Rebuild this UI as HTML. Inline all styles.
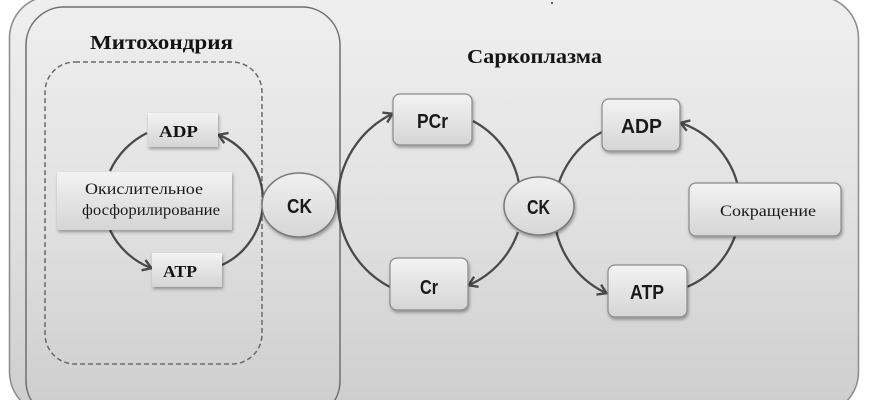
<!DOCTYPE html>
<html>
<head>
<meta charset="utf-8">
<style>
  html, body { margin:0; padding:0; background:#ffffff; }
  body { width:870px; height:400px; overflow:hidden; }
  svg { display:block; }
  .serifb { font-family:"Liberation Serif","Noto Serif CJK SC",serif; font-weight:bold; fill:#141414; }
  .serif { font-family:"Liberation Serif","Noto Serif CJK SC",serif; fill:#1a1a1a; }
  .sansb { font-family:"Liberation Sans","Noto Sans CJK SC",sans-serif; font-weight:bold; fill:#1a1a1a; }
</style>
</head>
<body>
<svg width="870" height="400" viewBox="0 0 870 400" xmlns="http://www.w3.org/2000/svg">
  <defs>
    <linearGradient id="bg" x1="0" y1="0" x2="0" y2="1">
      <stop offset="0" stop-color="#efefef"/>
      <stop offset="0.5" stop-color="#e2e2e2"/>
      <stop offset="1" stop-color="#cdcdcd"/>
    </linearGradient>
    <linearGradient id="box" x1="0" y1="0" x2="0" y2="1">
      <stop offset="0" stop-color="#f3f3f3"/>
      <stop offset="1" stop-color="#d5d5d5"/>
    </linearGradient>
    <linearGradient id="ell" x1="0" y1="0" x2="0" y2="1">
      <stop offset="0" stop-color="#f0f0f0"/>
      <stop offset="1" stop-color="#d6d6d6"/>
    </linearGradient>
    <filter id="sh" x="-20%" y="-20%" width="140%" height="150%">
      <feDropShadow dx="1" dy="2" stdDeviation="1.6" flood-color="#000" flood-opacity="0.35"/>
    </filter>
    <marker id="arr" markerWidth="14" markerHeight="14" refX="10" refY="7" orient="auto" markerUnits="userSpaceOnUse">
      <path d="M2,1.5 L10.5,7 L2,12.5" fill="none" stroke="#4a4a4a" stroke-width="2.4" stroke-linejoin="miter"/>
    </marker>
  </defs>

  <!-- outer sarcoplasm box -->
  <rect x="9.5" y="-4" width="849" height="418" rx="42" ry="42" fill="url(#bg)" stroke="#909090" stroke-width="1.6"/>

  <!-- mitochondria box -->
  <rect x="26" y="7" width="314" height="412" rx="38" ry="38" fill="none" stroke="#6f6f6f" stroke-width="1.5"/>

  <!-- dashed inner -->
  <rect x="45" y="62" width="217" height="302" rx="30" ry="30" fill="none" stroke="#6a6a6a" stroke-width="1.5" stroke-dasharray="5,3"/>

  <!-- titles -->
  <text x="90" y="49" class="serifb" font-size="20" textLength="143" lengthAdjust="spacingAndGlyphs">Митохондрия</text>
  <text x="467" y="63" class="serifb" font-size="20" textLength="135" lengthAdjust="spacingAndGlyphs">Саркоплазма</text>

  <!-- small dot -->
  <circle cx="552" cy="3" r="1" fill="#333"/>

  <!-- ===== Left (mitochondrial) cycle arcs ===== -->
  <g fill="none" stroke="#4a4a4a" stroke-width="2.3">
    <path d="M147,133 A80,80 0 0 0 110,171"/>
    <path d="M110,230 A75,75 0 0 0 151,268" marker-end="url(#arr)"/>
    <path d="M222,265 A71,71 0 0 0 219,135" marker-end="url(#arr)"/>
  </g>

  <!-- ===== Middle cycle arcs ===== -->
  <g fill="none" stroke="#4a4a4a" stroke-width="2.3">
    <path d="M390,287 A97,97 0 0 1 392,114" marker-end="url(#arr)"/>
    <path d="M473,121 A90,90 0 0 1 519,183"/>
    <path d="M518,232 A90,90 0 0 1 469,285" marker-end="url(#arr)"/>
  </g>

  <!-- ===== Right cycle arcs ===== -->
  <g fill="none" stroke="#4a4a4a" stroke-width="2.3">
    <path d="M602,132 A90,90 0 0 0 606,293" marker-end="url(#arr)"/>
    <path d="M687,287 A88,88 0 0 0 681,123" marker-end="url(#arr)"/>
  </g>

  <!-- mitochondria boxes -->
  <g filter="url(#sh)">
    <rect x="148" y="113" width="70" height="34" fill="url(#box)"/>
    <rect x="57" y="172" width="175" height="58" fill="url(#box)"/>
    <rect x="152" y="253" width="70" height="34" fill="url(#box)"/>
  </g>
  <text x="159" y="137" class="serifb" font-size="17" textLength="39" lengthAdjust="spacingAndGlyphs">ADP</text>
  <text x="85" y="194" class="serif" font-size="15.5" textLength="118" lengthAdjust="spacingAndGlyphs">Окислительное</text>
  <text x="82" y="215" class="serif" font-size="15.5" textLength="138" lengthAdjust="spacingAndGlyphs">фосфорилирование</text>
  <text x="163" y="277" class="serifb" font-size="17" textLength="34" lengthAdjust="spacingAndGlyphs">ATP</text>

  <!-- CK ellipses -->
  <g filter="url(#sh)">
    <ellipse cx="299" cy="205" rx="37" ry="32" fill="url(#ell)" stroke="#7a7a7a" stroke-width="1.5"/>
    <ellipse cx="539" cy="206" rx="35" ry="29" fill="url(#ell)" stroke="#7a7a7a" stroke-width="1.5"/>
  </g>
  <text x="287" y="213" class="sansb" font-size="20" textLength="25" lengthAdjust="spacingAndGlyphs">CK</text>
  <text x="527" y="214" class="sansb" font-size="20" textLength="23" lengthAdjust="spacingAndGlyphs">CK</text>

  <!-- sarcoplasm rounded boxes -->
  <g filter="url(#sh)" stroke="#8a8a8a" stroke-width="1.2">
    <rect x="393" y="94" width="79" height="51" rx="7" fill="url(#box)"/>
    <rect x="390" y="258" width="78" height="52" rx="7" fill="url(#box)"/>
    <rect x="602" y="99" width="78" height="52" rx="7" fill="url(#box)"/>
    <rect x="608" y="265" width="79" height="52" rx="7" fill="url(#box)"/>
    <rect x="689" y="183" width="152" height="53" rx="7" fill="url(#box)"/>
  </g>
  <text x="417" y="128" class="sansb" font-size="20" textLength="31" lengthAdjust="spacingAndGlyphs">PCr</text>
  <text x="420" y="294" class="sansb" font-size="20" textLength="18" lengthAdjust="spacingAndGlyphs">Cr</text>
  <text x="621" y="133" class="sansb" font-size="20" textLength="41" lengthAdjust="spacingAndGlyphs">ADP</text>
  <text x="630" y="299" class="sansb" font-size="20" textLength="34" lengthAdjust="spacingAndGlyphs">ATP</text>
  <text x="720" y="216" class="serif" font-size="16" textLength="96" lengthAdjust="spacingAndGlyphs">Сокращение</text>
</svg>
</body>
</html>
